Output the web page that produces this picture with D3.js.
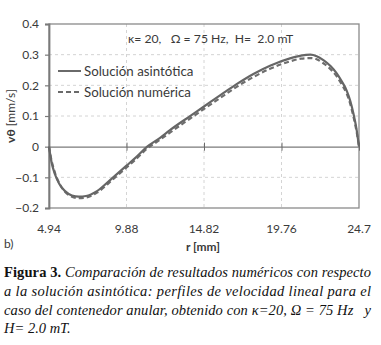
<!DOCTYPE html>
<html><head><meta charset="utf-8">
<script src="https://cdn.jsdelivr.net/npm/d3@7"></script>
<style>
html,body{margin:0;padding:0;background:#fff;}
svg{display:block;}
</style></head>
<body>
<svg id="chart" width="381" height="345"></svg>
<script>
// ---- data ----
const rValues = [4.94, 5.1, 5.32, 5.6, 5.96, 6.4, 6.85, 7.3, 8.0, 8.94, 9.88, 10.5, 11.2, 12.0, 12.65, 14.0, 14.82, 16.0, 16.9, 18.0, 19.03, 20.3, 21.0, 21.6, 22.0, 22.43, 22.9, 23.28, 23.6, 23.92, 24.15, 24.34, 24.55, 24.7];
const asintotica = [0, -0.05, -0.09, -0.122, -0.145, -0.159, -0.163, -0.161, -0.145, -0.104, -0.062, -0.034, 0, 0.028, 0.054, 0.102, 0.131, 0.173, 0.204, 0.238, 0.264, 0.288, 0.297, 0.300, 0.295, 0.282, 0.262, 0.239, 0.213, 0.182, 0.148, 0.109, 0.055, 0];
const numerica = [0, -0.045, -0.085, -0.12, -0.147, -0.163, -0.168, -0.166, -0.150, -0.110, -0.068, -0.040, -0.006, 0.022, 0.046, 0.094, 0.123, 0.164, 0.195, 0.228, 0.254, 0.278, 0.287, 0.289, 0.285, 0.272, 0.252, 0.229, 0.203, 0.172, 0.138, 0.099, 0.048, 0];
const xTicks = [4.94, 9.88, 14.82, 19.76, 24.7];
const yTicks = [-0.2, -0.1, 0, 0.1, 0.2, 0.3, 0.4];
const seriesNames = ["Solución asintótica", "Solución numérica"];
const annotation = "κ= 20,   Ω = 75 Hz,  H=  2.0 mT";
const captionLines = [
  ["Figura 3.", " Comparación de resultados numéricos con respecto"],
  ["", "a la solución asintótica: perfiles de velocidad lineal para el"],
  ["", "caso del contenedor anular, obtenido con κ=20, Ω = 75 Hz   y"],
  ["", "H= 2.0 mT."]
];

const svg = d3.select("#chart");
const m = {left: 49, right: 359, top: 24, bottom: 208};
const x = d3.scaleLinear().domain([4.94, 24.7]).range([m.left, m.right]);
const y = d3.scaleLinear().domain([-0.2, 0.4]).range([m.bottom, m.top]);
const fontUI = "Lato, 'Open Sans', sans-serif";
const txt = "#3a3a3a";

// grid
svg.append("g").selectAll("line").data(yTicks.filter(d => d !== 0 && d !== 0.4 && d !== -0.2)).join("line")
  .attr("x1", m.left).attr("x2", m.right).attr("y1", d => y(d)).attr("y2", d => y(d))
  .attr("stroke", "#d4d4d4").attr("stroke-width", 1).attr("stroke-dasharray", "3,3");
svg.append("g").selectAll("line").data(xTicks.slice(1, -1)).join("line")
  .attr("x1", d => x(d)).attr("x2", d => x(d)).attr("y1", m.top).attr("y2", m.bottom)
  .attr("stroke", "#d4d4d4").attr("stroke-width", 1).attr("stroke-dasharray", "3,3");

// frame
svg.append("rect").attr("x", m.left).attr("y", m.top).attr("width", m.right - m.left).attr("height", m.bottom - m.top)
  .attr("fill", "none").attr("stroke", "#8a8a8a").attr("stroke-width", 1.3);

// zero line with ticks
const xAxis = d3.axisBottom(x).tickValues(xTicks).tickSize(0).tickFormat("");
const gx = svg.append("g").attr("transform", `translate(0,${y(0)})`).call(xAxis);
gx.select(".domain").attr("stroke", "#7a7a7a").attr("stroke-width", 1.3);
gx.selectAll(".tick").append("line").attr("y1", -4).attr("y2", 4).attr("stroke", "#6a6a6a").attr("stroke-width", 1);

// y axis
const yAxis = d3.axisLeft(y).tickValues(yTicks).tickSize(4).tickPadding(6)
  .tickFormat(d => d === 0 ? "0" : d3.format(".1f")(d));
const gy = svg.append("g").attr("transform", `translate(${m.left},0)`).call(yAxis);
gy.select(".domain").attr("stroke", "#7a7a7a").attr("stroke-width", 1.8);
gy.selectAll(".tick line").attr("stroke", "#7a7a7a").attr("stroke-width", 1.2);
gy.selectAll(".tick text").attr("font-family", fontUI).attr("font-size", 12).attr("fill", txt);

// x tick labels
svg.append("g").selectAll("text").data(xTicks).join("text")
  .attr("x", d => x(d)).attr("y", 233).attr("text-anchor", "middle")
  .attr("font-family", fontUI).attr("font-size", 12).attr("fill", txt)
  .text(d => d3.format("")(d));

// curves
const line = d3.line().curve(d3.curveMonotoneX);
const ptsA = rValues.map((r, i) => [x(r), y(asintotica[i])]);
const ptsN = rValues.map((r, i) => [x(r), y(numerica[i])]);
svg.append("path").attr("d", line(ptsN)).attr("fill", "none").attr("stroke", "#6e6e6e")
  .attr("stroke-width", 2.2).attr("stroke-dasharray", "5,3");
svg.append("path").attr("d", line(ptsA)).attr("fill", "none").attr("stroke", "#666")
  .attr("stroke-width", 2.2);

// annotation
svg.append("text").attr("x", 128).attr("y", 43).attr("font-family", fontUI).attr("font-size", 12.2)
  .attr("fill", txt).attr("xml:space", "preserve").style("white-space", "pre").text(annotation);

// legend
const leg = svg.append("g");
seriesNames.forEach((n, i) => {
  const ly = 71 + i * 21;
  leg.append("line").attr("x1", 58).attr("x2", 81).attr("y1", ly).attr("y2", ly)
    .attr("stroke", "#6a6a6a").attr("stroke-width", 2)
    .attr("stroke-dasharray", i === 1 ? "5,3" : null);
  leg.append("text").attr("x", 84).attr("y", ly + 4.5).attr("font-family", fontUI).attr("font-size", 13.3)
    .attr("fill", txt).text(n);
});

// axis titles
svg.append("text").attr("transform", `translate(15,116) rotate(-90)`).attr("text-anchor", "middle")
  .attr("font-family", fontUI).attr("font-size", 12).attr("fill", txt)
  .call(t => { t.append("tspan").attr("font-weight", "bold").text("vθ"); t.append("tspan").text(" [mm/s]"); });
svg.append("text").attr("x", 203).attr("y", 251).attr("text-anchor", "middle")
  .attr("font-family", fontUI).attr("font-size", 12).attr("font-weight", "bold").attr("fill", txt).text("r [mm]");
svg.append("text").attr("x", 4).attr("y", 248).attr("font-family", fontUI).attr("font-size", 12)
  .attr("fill", txt).text("b)");

// caption
const capY = [277, 296, 315, 333];
captionLines.forEach((ln, i) => {
  const t = svg.append("text").attr("x", 4).attr("y", capY[i])
    .attr("font-family", "'Liberation Serif', 'DejaVu Serif', serif").attr("font-size", 14.5).attr("fill", "#111")
    .attr("xml:space", "preserve").style("white-space", "pre");
  if (i < 3) t.attr("textLength", 367).attr("lengthAdjust", "spacing");
  if (ln[0]) t.append("tspan").attr("font-weight", "bold").text(ln[0]);
  t.append("tspan").attr("font-style", "italic").text(ln[1]);
});
</script>
</body></html>
